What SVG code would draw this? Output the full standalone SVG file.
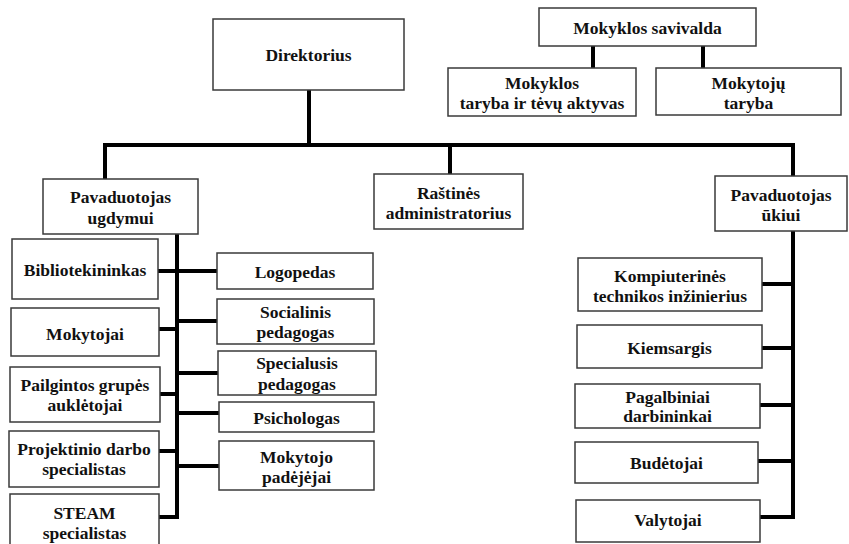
<svg xmlns="http://www.w3.org/2000/svg" width="849" height="544" viewBox="0 0 849 544" font-family="Liberation Serif, Times New Roman, serif" font-weight="bold" font-size="17.5" text-anchor="middle">
<style>
.box{fill:#fff;stroke:#3a3a3a;stroke-width:1.5}
text{fill:#111}
.ln{stroke:#000;stroke-width:4;fill:none;stroke-linecap:square}
</style>
<rect width="849" height="544" fill="#fff"/>
<g id="connectors">
<path class="ln" d="M309 90V145M105 179V145H793V176M450 145V174"/>
<path class="ln" d="M593 46V67M703 46V67"/>
<path class="ln" d="M177 234V517M158 271H217M159 329H177M177 321H217M160 394H177M177 373H218M177 413H219M159 451H177M177 466H219M159 517H177"/>
<path class="ln" d="M793 231V517M762 284H793M762 348H793M760 405H793M758 461H793M760 517H793"/>
</g>
<g id="direktorius"><rect class="box" x="213" y="19" width="191" height="71"/><text x="308.5" y="61">Direktorius</text></g>
<g id="savivalda"><rect class="box" x="539" y="8" width="217" height="38"/><text x="647.5" y="34">Mokyklos savivalda</text></g>
<g id="taryba"><rect class="box" x="448" y="68" width="188" height="48"/><text x="542" y="89">Mokyklos</text><text x="542" y="109">taryba ir tėvų aktyvas</text></g>
<g id="mokytoju-taryba"><rect class="box" x="656" y="68" width="185" height="47"/><text x="748.5" y="89">Mokytojų</text><text x="748.5" y="109">taryba</text></g>
<g id="pav-ugdymui"><rect class="box" x="43" y="179" width="155" height="55"/><text x="120.5" y="203">Pavaduotojas</text><text x="120.5" y="224">ugdymui</text></g>
<g id="rastines"><rect class="box" x="374" y="174" width="149" height="55"/><text x="448.5" y="199">Raštinės</text><text x="448.5" y="219">administratorius</text></g>
<g id="pav-ukiui"><rect class="box" x="715" y="176" width="132" height="55"/><text x="781" y="201">Pavaduotojas</text><text x="781" y="221">ūkiui</text></g>
<g id="bibliotekininkas"><rect class="box" x="12" y="239" width="146" height="60"/><text x="85" y="276">Bibliotekininkas</text></g>
<g id="mokytojai"><rect class="box" x="11" y="308" width="148" height="48"/><text x="85" y="340">Mokytojai</text></g>
<g id="pailgintos"><rect class="box" x="10" y="367" width="150" height="55"/><text x="85" y="391">Pailgintos grupės</text><text x="85" y="411">auklėtojai</text></g>
<g id="projektinio"><rect class="box" x="9" y="431" width="150" height="56"/><text x="84" y="455">Projektinio darbo</text><text x="84" y="475">specialistas</text></g>
<g id="steam"><rect class="box" x="10" y="494" width="149" height="56"/><text x="84.5" y="519">STEAM</text><text x="84.5" y="539">specialistas</text></g>
<g id="logopedas"><rect class="box" x="217" y="253" width="156" height="36"/><text x="295" y="278">Logopedas</text></g>
<g id="socialinis"><rect class="box" x="217" y="299" width="157" height="45"/><text x="295.5" y="318">Socialinis</text><text x="295.5" y="338">pedagogas</text></g>
<g id="specialusis"><rect class="box" x="218" y="351" width="158" height="44"/><text x="297" y="369">Specialusis</text><text x="297" y="390">pedagogas</text></g>
<g id="psichologas"><rect class="box" x="219" y="402" width="155" height="30"/><text x="296.5" y="424">Psichologas</text></g>
<g id="padejejai"><rect class="box" x="219" y="441" width="155" height="49"/><text x="296.5" y="463">Mokytojo</text><text x="296.5" y="483">padėjėjai</text></g>
<g id="kompiuterines"><rect class="box" x="578" y="258" width="184" height="53"/><text x="670" y="282">Kompiuterinės</text><text x="670" y="302">technikos inžinierius</text></g>
<g id="kiemsargis"><rect class="box" x="577" y="325" width="185" height="43"/><text x="669.5" y="354">Kiemsargis</text></g>
<g id="pagalbiniai"><rect class="box" x="575" y="384" width="185" height="44"/><text x="667.5" y="403">Pagalbiniai</text><text x="667.5" y="422">darbininkai</text></g>
<g id="budetojai"><rect class="box" x="575" y="442" width="183" height="41"/><text x="666.5" y="469">Budėtojai</text></g>
<g id="valytojai"><rect class="box" x="576" y="500" width="184" height="42"/><text x="668" y="526">Valytojai</text></g>
</svg>
